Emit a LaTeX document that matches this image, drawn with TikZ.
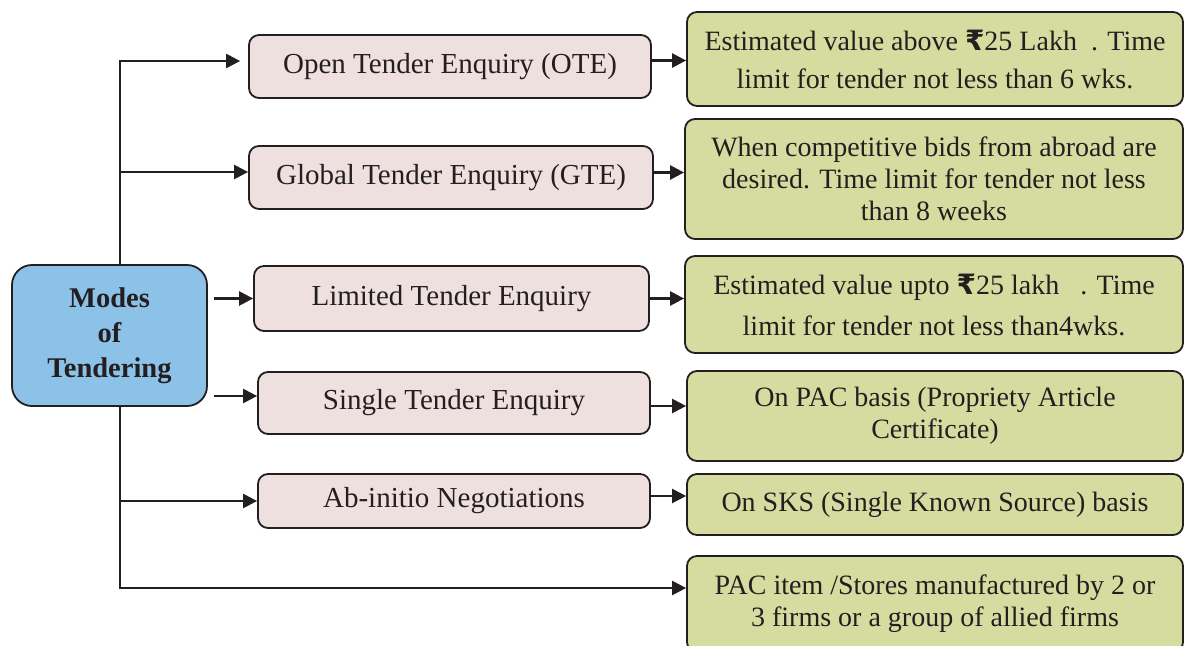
\documentclass[tikz,border=0pt]{standalone}
\usepackage{fontspec}
\setmainfont{Liberation Serif}
\newfontfamily\rupeefont{DejaVu Sans}
\usetikzlibrary{arrows.meta}
\newcommand{\Rs}{{\rupeefont\bfseries ₹}}
\definecolor{bluefill}{RGB}{141,194,232}
\definecolor{pinkfill}{RGB}{239,224,224}
\definecolor{greenfill}{RGB}{214,220,160}
\definecolor{edge}{RGB}{35,31,32}
\begin{document}
\begin{tikzpicture}[x=1pt,y=-1pt,
  base/.style={draw=edge,line width=1.8pt,rounded corners=10pt,align=center,inner sep=0pt,
    font=\fontsize{28}{32}\selectfont,text=edge},
  pinkbox/.style={base,fill=pinkfill,font=\fontsize{29}{32}\selectfont},
  greenbox/.style={base,fill=greenfill},
  bluebox/.style={base,fill=bluefill,rounded corners=20pt,font=\fontsize{28.5}{35}\selectfont\bfseries},
  arr/.style={draw=edge,line width=2.4pt,-{Triangle[length=14pt,width=14pt]}}]
\clip (0,0) rectangle (1185,645);
\fill[white] (0,0) rectangle (1185,645);
% main
\node[bluebox,minimum width=195pt,minimum height=141pt] (mot) at (109.5,335.5) {Modes\\of\\Tendering};
% pink
\node[pinkbox,minimum width=402pt,minimum height=63pt] (ote) at (450,66.5) {Open Tender Enquiry (OTE)};
\node[pinkbox,minimum width=404pt,minimum height=63pt] (gte) at (451,177.5) {Global Tender Enquiry (GTE)};
\node[pinkbox,minimum width=395pt,minimum height=65pt] (lte) at (451.5,298.5) {Limited Tender Enquiry};
\node[pinkbox,minimum width=392pt,minimum height=62pt] (ste) at (454,403) {Single Tender Enquiry};
\node[pinkbox,minimum width=392pt,minimum height=54pt] (abn) at (454,501) {Ab-initio Negotiations};
% green
\node[greenbox,minimum width=496pt,minimum height=94pt,font=\fontsize{28}{38}\selectfont] (g1) at (935,59) {Estimated value above \Rs25 Lakh\ \ . Time\\limit for tender not less than 6 wks.};
\node[greenbox,minimum width=498pt,minimum height=120pt] (g2) at (934,179) {When competitive bids from abroad are\\desired. Time limit for tender not less\\than 8 weeks};
\node[greenbox,minimum width=498pt,minimum height=97pt,font=\fontsize{28}{41}\selectfont] (g3) at (934,304.5) {Estimated value upto \Rs25 lakh\ \ \ . Time\\limit for tender not less than4wks.};
\node[greenbox,minimum width=496pt,minimum height=90pt] (g4) at (935,416) {On PAC basis (Propriety Article\\Certificate)};
\node[greenbox,minimum width=496pt,minimum height=61pt] (g5) at (935,504.5) {On SKS (Single Known Source) basis};
\node[greenbox,minimum width=496pt,minimum height=96pt] (g6) at (935,604) {PAC item /Stores manufactured by 2 or\\3 firms or a group of allied firms};
% trunk
\coordinate (tx) at (120,0);
\draw[arr,shorten >=8pt] (mot.north -| tx) |- ([yshift=5.5pt]ote.west);
\draw[arr] (mot.north -| tx) |- ([yshift=5.5pt]gte.west);
\draw[arr] (mot.south -| tx) |- (abn.west);
\draw[arr] (mot.south -| tx) |- ([yshift=16pt]g6.west);
\draw[arr] ([xshift=6pt]mot.east |- lte.west) -- (lte.west);
\draw[arr] ([xshift=6pt,yshift=7pt]mot.east |- ste.west) -- ([yshift=7pt]ste.west);
% pink to green
\draw[arr] ([yshift=6pt]ote.east) -- ([yshift=6pt]ote.east -| g1.west);
\draw[arr] ([yshift=5pt]gte.east) -- ([yshift=5pt]gte.east -| g2.west);
\draw[arr] (lte.east) -- (lte.east -| g3.west);
\draw[arr] ([yshift=-3pt]ste.east) -- ([yshift=-3pt]ste.east -| g4.west);
\draw[arr] ([yshift=5pt]abn.east) -- ([yshift=5pt]abn.east -| g5.west);
\end{tikzpicture}
\end{document}
